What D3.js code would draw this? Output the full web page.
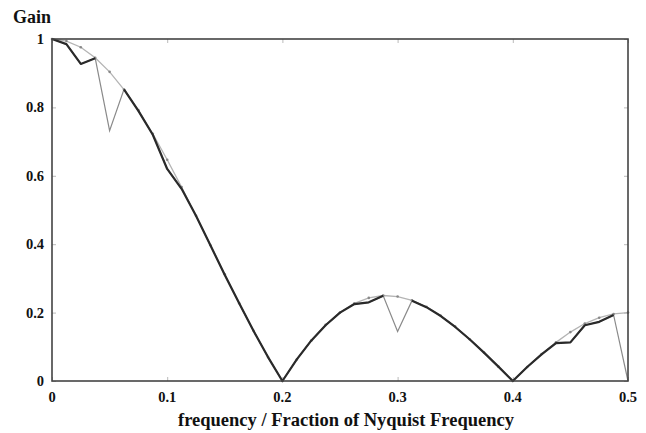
<!DOCTYPE html>
<html lang="en">
<head>
    <meta charset="UTF-8">
    <title>gain</title>
    <script src="https://d3js.org/d3.v7.min.js"></script>
    <style>
        body { margin: 0; background: #fff; }
        text { font-family: "Liberation Serif", serif; font-weight: bold; fill: #111; }
    </style>
</head>
<body>
<script>
    const width = 646
    const height = 433
    const margin = {left: 52, right: 18, top: 39, bottom: 52}

    // sample frequencies (fraction of Nyquist)
    const freq = [0, 0.0125, 0.025, 0.0375, 0.05, 0.0625, 0.075, 0.0875, 0.1, 0.1125,
        0.125, 0.1375, 0.15, 0.1625, 0.175, 0.1875, 0.2, 0.2125, 0.225, 0.2375,
        0.25, 0.2625, 0.275, 0.2875, 0.3, 0.3125, 0.325, 0.3375, 0.35, 0.3625,
        0.375, 0.3875, 0.4, 0.4125, 0.425, 0.4375, 0.45, 0.4625, 0.475, 0.4875, 0.5]
    // ideal response (light curve with dots)
    const ideal = [1, 0.994, 0.976, 0.945, 0.904, 0.852, 0.792, 0.723, 0.647, 0.567,
        0.483, 0.397, 0.312, 0.227, 0.147, 0.070, 0, 0.063, 0.118, 0.164,
        0.200, 0.227, 0.243, 0.250, 0.247, 0.236, 0.217, 0.191, 0.159, 0.122,
        0.083, 0.042, 0, 0.041, 0.079, 0.113, 0.143, 0.168, 0.185, 0.196, 0.200]
    // measured response (thin grey line, includes dropouts)
    const measured = [1, 0.985, 0.927, 0.944, 0.732, 0.853, 0.790, 0.720, 0.620, 0.562,
        0.483, 0.397, 0.310, 0.227, 0.146, 0.070, 0, 0.063, 0.118, 0.163,
        0.200, 0.225, 0.230, 0.249, 0.145, 0.235, 0.216, 0.190, 0.158, 0.122,
        0.083, 0.042, 0, 0.041, 0.078, 0.111, 0.113, 0.163, 0.173, 0.193, 0]
    // frequencies where the dark line is broken
    const dropouts = [0.05, 0.3, 0.5]

    const xTicks = [0, 0.1, 0.2, 0.3, 0.4, 0.5]
    const yTicks = [0, 0.2, 0.4, 0.6, 0.8, 1]

    const svg = d3.select("body")
        .append("svg")
        .attr("width", width)
        .attr("height", height)

    const x = d3.scaleLinear()
        .domain([0, 0.5])
        .range([margin.left, width - margin.right])
    const y = d3.scaleLinear()
        .domain([0, 1])
        .range([height - margin.bottom, margin.top])

    // inner ticks on all four sides
    const tickLen = 4
    svg.append("g")
        .attr("transform", "translate(0," + y(0) + ")")
        .call(d3.axisBottom(x).tickValues(xTicks).tickSize(-tickLen).tickFormat(""))
        .call(g => g.select(".domain").remove())
    svg.append("g")
        .attr("transform", "translate(0," + y(1) + ")")
        .call(d3.axisTop(x).tickValues(xTicks).tickSize(-tickLen).tickFormat(""))
        .call(g => g.select(".domain").remove())
    svg.append("g")
        .attr("transform", "translate(" + x(0) + ",0)")
        .call(d3.axisLeft(y).tickValues(yTicks).tickSize(-tickLen).tickFormat(""))
        .call(g => g.select(".domain").remove())
    svg.append("g")
        .attr("transform", "translate(" + x(0.5) + ",0)")
        .call(d3.axisRight(y).tickValues(yTicks).tickSize(-tickLen).tickFormat(""))
        .call(g => g.select(".domain").remove())
    svg.selectAll(".tick line").attr("stroke", "#bbb").attr("stroke-width", 1)

    // tick labels
    svg.append("g")
        .selectAll("text")
        .data(xTicks)
        .enter()
        .append("text")
        .attr("x", d => x(d))
        .attr("y", y(0) + 21)
        .attr("text-anchor", "middle")
        .attr("font-size", 14.5)
        .text(d => d3.format("")(d))
    svg.append("g")
        .selectAll("text")
        .data(yTicks)
        .enter()
        .append("text")
        .attr("x", x(0) - 8)
        .attr("y", d => y(d) + 5)
        .attr("text-anchor", "end")
        .attr("font-size", 14.5)
        .text(d => d3.format("")(d))

    const line = d3.line()
        .x((d, i) => x(freq[i]))
        .y(d => y(d))

    // ideal curve
    svg.append("path")
        .attr("d", line(ideal))
        .attr("fill", "none")
        .attr("stroke", "#b4b4b4")
        .attr("stroke-width", 1.3)
    svg.append("g")
        .selectAll("circle")
        .data(ideal)
        .enter()
        .append("circle")
        .attr("cx", (d, i) => x(freq[i]))
        .attr("cy", d => y(d))
        .attr("r", 1.3)
        .attr("fill", "#888")

    // measured, thin
    svg.append("path")
        .attr("d", line(measured))
        .attr("fill", "none")
        .attr("stroke", "#8a8a8a")
        .attr("stroke-width", 1.2)

    // measured, thick, broken at dropouts
    const darkLine = d3.line()
        .defined((d, i) => dropouts.indexOf(freq[i]) < 0)
        .x((d, i) => x(freq[i]))
        .y(d => y(d))
    svg.append("path")
        .attr("d", darkLine(measured))
        .attr("fill", "none")
        .attr("stroke", "#2a2a2a")
        .attr("stroke-width", 2.2)
        .attr("stroke-linejoin", "round")

    // frame
    svg.append("rect")
        .attr("x", x(0))
        .attr("y", y(1))
        .attr("width", x(0.5) - x(0))
        .attr("height", y(0) - y(1))
        .attr("fill", "none")
        .attr("stroke", "#444")
        .attr("stroke-width", 1.6)

    svg.append("text")
        .attr("x", 13)
        .attr("y", 23)
        .attr("font-size", 18)
        .text("Gain")
    svg.append("text")
        .attr("x", 346)
        .attr("y", 426)
        .attr("text-anchor", "middle")
        .attr("font-size", 18.5)
        .text("frequency / Fraction of Nyquist Frequency")
</script>
</body>
</html>
